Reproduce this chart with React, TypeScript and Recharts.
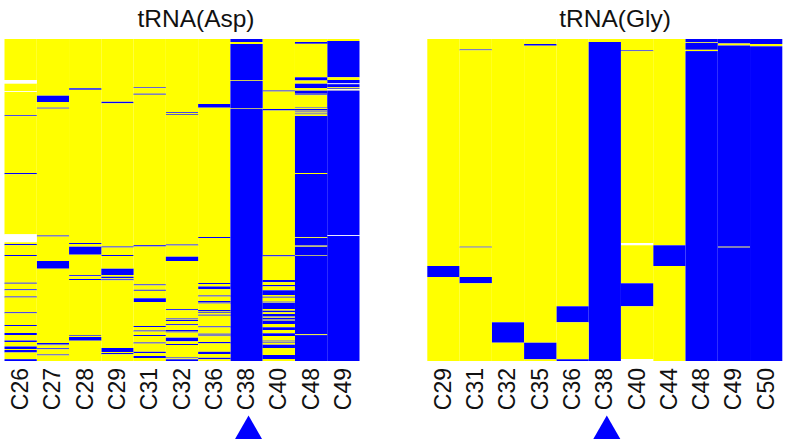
import React from 'react';
import { BarChart, Bar, XAxis, YAxis, Cell } from 'recharts';

type Band = number[];

const ROWS = 322;
const YELLOW = '#ffff00';
const BLUE = '#0000ff';
const WHITE = '#ffffff';

// tRNA(Asp): each band is [first row, last row], counted from the top of the map
const aspLabels = ['C26', 'C27', 'C28', 'C29', 'C31', 'C32', 'C36', 'C38', 'C40', 'C48', 'C49'];
const aspBlue: Band[][] = [
  [[76.3, 77.1], [134, 135.2], [205, 206.2], [216, 217], [243.7, 244.7], [250.3, 251.3], [257.5, 258.5], [273.3, 274.3], [286, 287], [294, 296], [301.5, 303], [307.5, 310], [311, 313.5], [320.2, 322]],
  [[56.7, 63], [68.7, 69.6], [196.5, 197.5], [222, 229.7], [304, 305], [305.5, 306.3], [309.3, 310.3], [315.5, 316.4]],
  [[49.3, 50.8], [204, 205], [207.7, 215.7], [236.2, 237.2], [240, 241], [296, 296.8], [298, 301.7]],
  [[62.8, 64.3], [207.5, 208.5], [216, 217], [229.7, 236], [237.7, 239.3], [240.3, 241.3], [309, 313], [314, 315.3]],
  [[48.4, 49.1], [54.7, 55.7], [206.2, 207.5], [245.4, 246.4], [250.8, 251.8], [259.3, 263], [287, 288], [291.5, 292.5], [296, 297], [303.5, 304.5], [312.8, 314.1], [317, 319]],
  [[73.1, 73.9], [75, 75.8], [205.5, 206.5], [217.7, 222], [270.2, 271.2], [279.5, 280.5], [281, 282], [285.2, 286.2], [291, 292], [292.5, 293.5], [298.7, 302.3], [305, 306], [318.5, 319.3], [320.3, 322]],
  [[65, 68.7], [198, 199], [244, 245], [247.5, 250.2], [256.5, 257.5], [262, 263], [263.5, 264.5], [271, 272], [272.8, 273.8], [275.7, 276.7], [287.4, 288.4], [294.7, 295.7], [296.5, 297.2], [303, 304.4], [312.8, 315], [318.8, 320.3]],
  [[0, 3], [5, 41], [41.8, 69], [69.7, 322]],
  [[51.5, 52.5], [70, 71.5], [216.2, 217.4], [241, 243.2], [246, 247.4], [251.3, 256], [257.7, 258.7], [262.7, 263.3], [263.8, 270], [271.7, 273.3], [275, 277], [277.6, 278.4], [279, 280], [280.6, 281.6], [282, 285], [288.3, 291], [294.3, 297], [301.7, 302.5], [303, 303.7], [305.7, 309], [316, 320]],
  [[3, 4.8], [38.3, 41.5], [44.7, 49.2], [51.7, 54.8], [55.4, 56.2], [68.6, 69.2], [70, 71.6], [72.6, 73.4], [74.6, 75.4], [77, 134], [135, 198.3], [199, 206], [206.6, 207.2], [207.8, 216], [216.7, 295.3], [296.1, 322]],
  [[2, 38.3], [41, 44.4], [45.2, 48.3], [49, 49.8], [51.6, 196.3], [197, 322]],
];
const aspWhite: Band[][] = [
  [[41, 44.7], [52.3, 53], [195.3, 203.3]],
  [], [], [], [], [], [], [], [], [],
  [[44.4, 45.2], [50.4, 51.4], [196.3, 197]],
];

// tRNA(Gly)
const glyLabels = ['C29', 'C31', 'C32', 'C35', 'C36', 'C38', 'C40', 'C44', 'C48', 'C49', 'C50'];
const glyBlue: Band[][] = [
  [[227, 238]],
  [[10.5, 11.3], [207.7, 208.5], [238, 244.3]],
  [[283.3, 303.7]],
  [[5, 6.7], [303.7, 320.3]],
  [[267.3, 283.3], [320.3, 322]],
  [[3, 322]],
  [[11.4, 12.2], [244.3, 267.3]],
  [[206.3, 227]],
  [[0, 3.2], [3.9, 10.8], [12.1, 322]],
  [[0, 4.5], [6.5, 207.7], [208.5, 322]],
  [[0, 5], [7.3, 322]],
];
const glyWhite: Band[][] = [
  [], [], [], [], [], [],
  [[204, 206.3], [320, 322]],
  [], [], [], [],
];

// one stacked value per run of equal colour, top to bottom
function buildRuns(blue: Band[], white: Band[]) {
  const marks = [
    ...blue.map((b) => ({ from: b[0], to: b[1], color: BLUE })),
    ...white.map((b) => ({ from: b[0], to: b[1], color: WHITE })),
  ].sort((a, b) => a.from - b.from);
  const runs: { size: number; color: string }[] = [];
  let at = 0;
  marks.forEach((m) => {
    if (m.from > at) runs.push({ size: m.from - at, color: YELLOW });
    runs.push({ size: m.to - m.from, color: m.color });
    at = m.to;
  });
  if (at < ROWS) runs.push({ size: ROWS - at, color: YELLOW });
  return runs;
}

const PLOT_WIDTH = 355;
const HEIGHT = 444;

function Heatmap({ title, titleX, labels, blue, white, left, width, marginLeft }: {
  title: string; titleX: number; labels: string[]; blue: Band[][]; white: Band[][];
  left: number; width: number; marginLeft: number;
}) {
  const runs = labels.map((_, i) => buildRuns(blue[i], white[i]));
  const maxRuns = Math.max(...runs.map((r) => r.length));
  const table = labels.map((name, i) => {
    const row: Record<string, string | number> = { name };
    runs[i].forEach((r, j) => { row[`s${j}`] = r.size; });
    return row;
  });
  const colWidth = PLOT_WIDTH / labels.length;

  const renderTick = ({ x, y, payload }: any) => (
    <g>
      <text
        transform={`translate(${x + 7.5},${y - 1}) rotate(-90)`}
        textAnchor="end"
        fontFamily="Liberation Sans"
        fontSize={23}
        fill="#111"
      >
        {payload.value}
      </text>
      {payload.value === 'C38' && (
        <polygon
          points={`${x + 2},${y + 46.5} ${x - 11.5},${y + 70} ${x + 15.5},${y + 70}`}
          fill={BLUE}
        />
      )}
    </g>
  );

  return (
    <div style={{ position: 'absolute', left, top: 0 }}>
      <BarChart
        width={width}
        height={HEIGHT}
        data={table}
        margin={{ top: 39, right: width - marginLeft - PLOT_WIDTH, left: marginLeft, bottom: 0 }}
        barCategoryGap={0}
        barGap={0}
      >
        <XAxis
          dataKey="name"
          interval={0}
          height={83}
          axisLine={false}
          tickLine={false}
          tick={renderTick}
        />
        <YAxis hide reversed type="number" domain={[0, ROWS]} />
        {Array.from({ length: maxRuns }, (_, j) => (
          <Bar
            key={j}
            dataKey={`s${j}`}
            stackId="map"
            isAnimationActive={false}
            shape={(p: any) => (
              <rect
                x={p.x}
                y={Math.min(p.y, p.y + p.height)}
                width={colWidth}
                height={Math.abs(p.height)}
                fill={p.fill}
              />
            )}
          >
            {labels.map((name, i) => (
              <Cell key={name} fill={runs[i][j] ? runs[i][j].color : YELLOW} />
            ))}
          </Bar>
        ))}
        <text
          x={titleX}
          y={27}
          textAnchor="middle"
          fontFamily="Liberation Sans"
          fontSize={24.5}
          fill="#111"
        >
          {title}
        </text>
      </BarChart>
    </div>
  );
}

export default function App() {
  return (
    <div style={{ position: 'absolute', left: 0, top: 0, width: 787, height: 444, background: '#fff' }}>
      <Heatmap title="tRNA(Asp)" titleX={196} labels={aspLabels} blue={aspBlue} white={aspWhite} left={0} width={393} marginLeft={4.5} />
      <Heatmap title="tRNA(Gly)" titleX={222} labels={glyLabels} blue={glyBlue} white={glyWhite} left={393} width={394} marginLeft={34.3} />
    </div>
  );
}
